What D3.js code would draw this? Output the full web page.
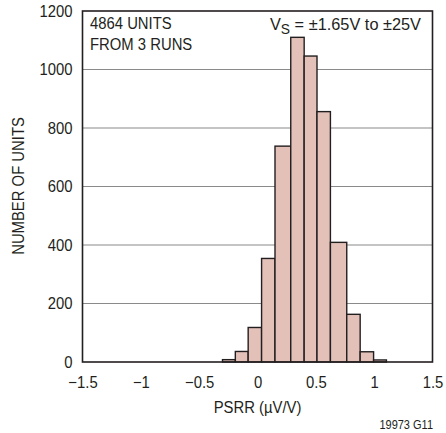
<!DOCTYPE html>
<html>
<head>
<meta charset="utf-8">
<script src="https://cdn.jsdelivr.net/npm/d3@7"></script>
<style>
  html, body { margin: 0; padding: 0; background: #fff; }
  svg { display: block; }
  text { font-family: "Liberation Sans", Arial, sans-serif; fill: #231f20; }
</style>
</head>
<body>
<svg id="chart" width="446" height="433"></svg>
<script>
// Histogram bins (left/right edges, µV/V) and counts
const binStarts = [-0.30, -0.19, -0.08, 0.035, 0.15, 0.285, 0.40, 0.51, 0.625, 0.765, 0.88, 0.995];
const binEnds   = [-0.19, -0.08, 0.035, 0.15, 0.285, 0.40, 0.51, 0.625, 0.765, 0.88, 0.995, 1.105];
const counts    = [8, 36, 118, 354, 738, 1110, 1046, 856, 409, 163, 35, 7];
const xTicks = [-1.5, -1, -0.5, 0, 0.5, 1, 1.5];
const xTickLabels = ["\u22121.5", "\u22121", "\u22120.5", "0", "0.5", "1", "1.5"];
const yTicks = [0, 200, 400, 600, 800, 1000, 1200];

const FS = 16.5, SX = 0.9;
const svg = d3.select("#chart");
const L = 82.5, R = 432.5, T = 11, B = 362;

const x = d3.scaleLinear().domain([-1.5, 1.5]).range([L, R]);
const y = d3.scaleLinear().domain([0, 1200]).range([B, T]);

function addText(px, py, str, anchor, extra, sx) {
  return svg.append("text")
    .attr("transform", `translate(${px},${py}) ${extra || ""} scale(${sx || SX},1)`)
    .attr("text-anchor", anchor || "start")
    .style("font-size", FS + "px")
    .text(str);
}

// gridlines
svg.append("g").selectAll("line").data(yTicks.filter(d => d > 0 && d < 1200)).join("line")
  .attr("x1", L).attr("x2", R)
  .attr("y1", d => y(d)).attr("y2", d => y(d))
  .attr("stroke", "#8a8a8a").attr("stroke-width", 1.2);

// bars
const bins = counts.map((c, i) => ({x0: binStarts[i], x1: binEnds[i], c}));
svg.append("g").selectAll("rect").data(bins).join("rect")
  .attr("x", d => x(d.x0))
  .attr("width", d => x(d.x1) - x(d.x0))
  .attr("y", d => y(d.c))
  .attr("height", d => y(0) - y(d.c))
  .attr("fill", "#e3c1b9")
  .attr("stroke", "#231f20")
  .attr("stroke-width", 1.4);

// frame
svg.append("rect").attr("x", L).attr("y", T).attr("width", R - L).attr("height", B - T)
  .attr("fill", "none").attr("stroke", "#231f20").attr("stroke-width", 1.6);

// axes (labels only)
const yAxis = d3.axisLeft(y).tickValues(yTicks).tickSize(0).tickPadding(11).tickFormat(d3.format("d"));
const gy = svg.append("g").attr("transform", `translate(${L},0)`).call(yAxis);
gy.select(".domain").remove();
gy.selectAll("text").style("font-size", FS + "px").attr("fill", "#231f20")
  .attr("transform", `scale(${SX},1)`);

const xAxis = d3.axisBottom(x).tickValues(xTicks).tickSize(0).tickPadding(14)
  .tickFormat((d, i) => xTickLabels[i]);
const gx = svg.append("g").attr("transform", `translate(0,${B})`).call(xAxis);
gx.select(".domain").remove();
gx.selectAll("text").style("font-size", FS + "px").attr("fill", "#231f20")
  .attr("transform", `scale(${SX},1)`);

// axis titles
addText(x(0), 412.5, "PSRR (\u00b5V/V)", "middle");
addText(24, 186, "NUMBER OF UNITS", "middle", "rotate(-90)");

// annotations
addText(90, 28.5, "4864 UNITS");
addText(90, 49.5, "FROM 3 RUNS");
const vs = addText(421, 29.5, null, "end", "", 0.99);
vs.append("tspan").text("V");
vs.append("tspan").attr("dy", 4).style("font-size", "14px").text("S");
vs.append("tspan").attr("dy", -4).text(" = \u00b11.65V to \u00b125V");

svg.append("text").attr("transform", `translate(433,429) scale(0.88,1)`).attr("text-anchor", "end")
  .style("font-size", "12.5px").text("19973 G11");
</script>
</body>
</html>
